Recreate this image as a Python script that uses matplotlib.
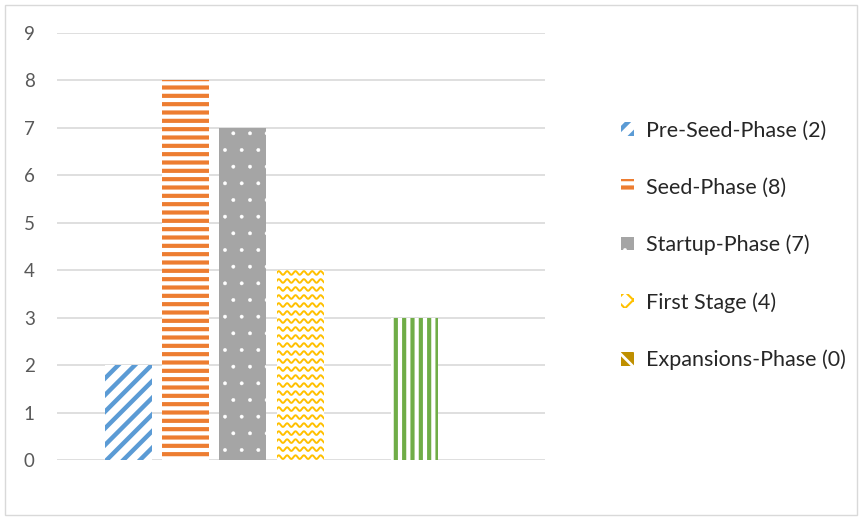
import matplotlib
matplotlib.use("Agg")
import matplotlib.pyplot as plt
import numpy as np
from matplotlib.patches import Rectangle

plt.rcParams['font.family'] = ['Lato', 'DejaVu Sans']

series = ["Pre-Seed-Phase (2)", "Seed-Phase (8)", "Startup-Phase (7)",
          "First Stage (4)", "Expansions-Phase (0)", "Later-Stage (3)", "Other (0)"]
values = [2, 8, 7, 4, 0, 3, 0]
legend_count = 5
yticks = list(range(0, 10))

colors = ["#5B9BD5", "#ED7D31", "#A5A5A5", "#FFC000", "#BF8F00", "#70AD47", "#4472C4"]

fig = plt.figure(figsize=(8.62, 5.18), dpi=100)
ax = fig.add_axes([0.0661, 0.112, 0.5661, 0.8243])

width = 0.82
x = np.arange(len(values))


def hbar(i, hlw, **kw):
    with plt.rc_context({'hatch.linewidth': hlw}):
        b = ax.bar(x[i], values[i], width, linewidth=0, zorder=3, **kw)
    p = b[0]
    if hasattr(p, "set_hatch_linewidth"):
        p.set_hatch_linewidth(hlw)
    return p


hatch_lws = [3.2, 3.0, 0.3, 1.5, 2.0]
handles = []
handles.append(hbar(0, hatch_lws[0], facecolor="white", edgecolor=colors[0], hatch="//"))
handles.append(hbar(1, hatch_lws[1], facecolor="white", edgecolor=colors[1], hatch="--"))
handles.append(hbar(2, hatch_lws[2], facecolor=colors[2], edgecolor="white", hatch="."))
yb = hbar(3, 1.0, facecolor="white", edgecolor="white")
handles.append(yb)
x0 = x[3] - width / 2
xs = np.linspace(x0 - 0.1, x0 + width + 0.1, 400)
row = 8 / 47.4
per = 8.4 / 57.3
amp = 1.8 / 47.4
for k in range(int(values[3] / row) + 2):
    ys = k * row + 0.06 + amp * np.sin(2 * np.pi * (xs - x0) / per)
    ln, = ax.plot(xs, ys, color=colors[3], lw=1.4, zorder=4)
    ln.set_clip_path(yb)
handles.append(hbar(4, hatch_lws[4], facecolor=colors[4], edgecolor="white", hatch="\\\\"))
hbar(5, 3.0, facecolor="white", edgecolor=colors[5], hatch="||")
hbar(6, 1.0, facecolor=colors[6])

leg_handles = []
for i in range(legend_count):
    if i == 3:
        with plt.rc_context({'hatch.linewidth': 1.5}):
            r = Rectangle((0, 0), 1, 1, facecolor="white", edgecolor=colors[3],
                          hatch="xx", linewidth=0)
        leg_handles.append(r)
    else:
        leg_handles.append(handles[i])

ax.set_xlim(-1.25, 7.28)
ax.set_ylim(0, 9)
ax.set_yticks(yticks)
ax.set_yticklabels([str(t) for t in yticks], fontsize=13.5, color="#595959")
ax.set_xticks([])
ax.tick_params(axis="y", length=0, pad=16)
for s in ax.spines.values():
    s.set_visible(False)
ax.yaxis.grid(True, color="#D9D9D9", linewidth=1.2, zorder=0)
ax.set_axisbelow(True)

leg = fig.legend(leg_handles, series[:legend_count], loc="upper left",
                 bbox_to_anchor=(0.6985, 0.805), frameon=False, fontsize=15.5,
                 handlelength=0.6, handleheight=0.6, handletextpad=0.55,
                 labelspacing=1.72, labelcolor="#262626")
lh = getattr(leg, "legend_handles", None) or getattr(leg, "legendHandles", [])
for h, w in zip(lh, hatch_lws):
    if hasattr(h, "set_hatch_linewidth"):
        h.set_hatch_linewidth(w)

fig.add_artist(Rectangle((0.006, 0.006), 0.988, 0.985, transform=fig.transFigure,
                         fill=False, edgecolor="#D9D9D9", linewidth=1))

fig.savefig("out.png", dpi=100)
